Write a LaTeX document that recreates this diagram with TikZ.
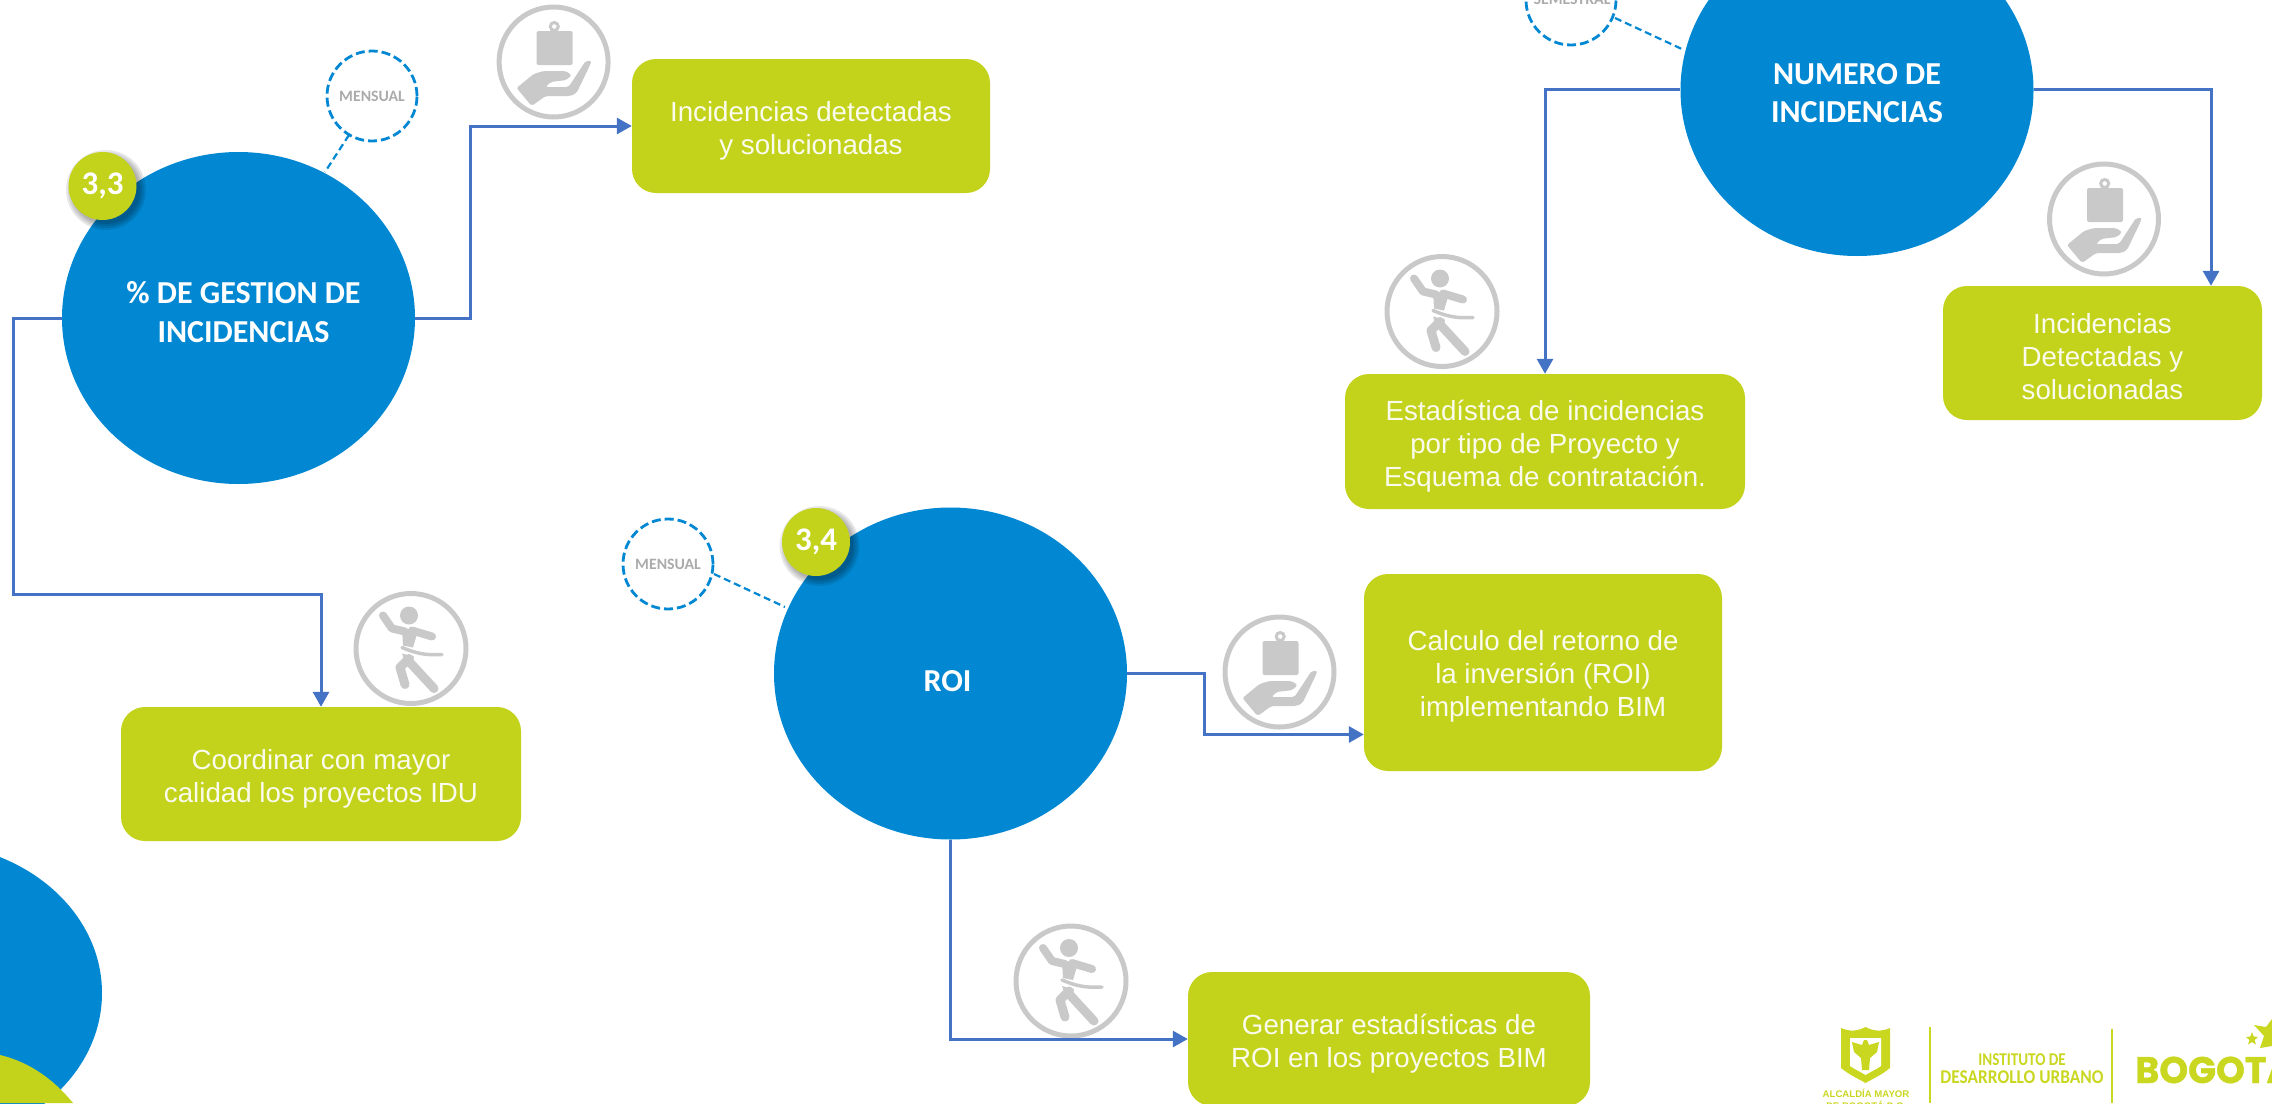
\documentclass[tikz,border=0pt]{standalone}
\usepackage{fontspec}
\setmainfont{Liberation Sans}
\newfontfamily\calfont{Carlito}
\newfontfamily\bogfont{Poppins}[BoldFeatures={FakeBold=1.2}]
\usetikzlibrary{shapes.geometric,arrows.meta,calc}
\definecolor{kblue}{HTML}{0288D3}
\definecolor{kgreen}{HTML}{C3D21A}
\definecolor{kline}{HTML}{4472C4}
\definecolor{kgray}{HTML}{C9C9C9}
\definecolor{ktext}{HTML}{ABABAB}
\definecolor{klogo}{HTML}{C9D721}
\tikzset{
  bigcirc/.style={ellipse,fill=kblue,draw=none,inner sep=0pt,minimum width=353pt,minimum height=332pt},
  bigtext/.style={inner sep=0pt,text=white,align=center,font=\calfont\bfseries\fontsize{32}{38.5}\selectfont},
  badge/.style={circle,fill=kgreen,draw=none,inner sep=0pt,minimum size=68pt,text=white,font=\calfont\bfseries\fontsize{33}{36}\selectfont},
  softshadow/.style={fill=black,opacity=.09},
  freq/.style={circle,draw=kblue,line width=2.8pt,dash pattern=on 9pt off 4pt,fill=white,inner sep=0pt,minimum size=90pt,text=ktext,font=\calfont\bfseries\fontsize{15.8}{18}\selectfont},
  freqlink/.style={draw=kblue,line width=2.2pt,dash pattern=on 7pt off 4pt},
  actbox/.style={rounded corners=24pt,fill=kgreen,draw=none,inner sep=0pt},
  acttext/.style={inner sep=0pt,text=white!92!kgreen,align=center,font=\fontsize{27.7}{33}\selectfont},
  conn/.style={draw=kline,line width=3pt,-{Triangle[length=15pt,width=16pt]}},
  handicon/.pic={
    \draw[kgray,line width=5pt] (0,0) ellipse[x radius=54.5pt,y radius=55pt];
    \fill[kgray,rounded corners=2pt] (-17,-31) rectangle (19,3);
    \draw[kgray,line width=3pt] (0.7,-35.5) circle[radius=4pt];
    \fill[kgray,rounded corners=2pt] (-37,26) -- (-20,12) -- (-10,9) -- (12,9) -- (18,13) -- (13,18) -- (-3,20) -- (-8,25) -- (15,25) -- (32,-1) -- (38,-1) -- (35,6) -- (23,31) -- (17,34) -- (-8,34) -- (-22,44) -- cycle;
  },
  runicon/.pic={
    \draw[kgray,line width=5pt] (0,0) ellipse[x radius=55pt,y radius=55pt];
    \fill[kgray] (-2,-33) circle[radius=9pt];
    \draw[kgray,line width=8pt,line cap=round,line join=round] (-28,-33) -- (-19,-20) -- (-6,-17);
    \draw[kgray,line width=8pt,line cap=round] (1,-18) -- (21,-12);
    \fill[kgray] (-9,-20) -- (7,-18) -- (2,-1) -- (-8,-3) -- cycle;
    \draw[kgray,line width=3.5pt,line cap=round] (-9,-1) .. controls (5,5) and (15,7) .. (31,6);
    \fill[kgray] (-9,5) -- (3,8) -- (2,14) -- (-6,14) -- cycle;
    \draw[kgray,line width=9pt,line cap=round,line join=round] (-2,10) -- (-11,19) -- (-6,36);
    \draw[kgray,line width=9pt,line cap=round] (-1,14) -- (23,40);
  }
}
\begin{document}
\begin{tikzpicture}[x=1pt,y=-1pt]
\useasboundingbox (0,0) rectangle (2272,1103);
\clip (0,0) rectangle (2272,1103);

% lower-left fragments
\fill[kblue] (-75,993) ellipse[x radius=177pt,y radius=150pt];
\fill[kgreen] (0,1055) .. controls (25,1061) and (50,1075) .. (73,1103) -- (0,1103) -- cycle;

% frequency circles and links
\node[freq] (fa) at (372,96) {MENSUAL};
\node[freq] (fb) at (668,564) {MENSUAL};
\node[freq] (fc) at (1571,0) {};
\node[text=ktext,inner sep=0pt,font=\calfont\bfseries\fontsize{15.8}{18}\selectfont] (fct) at (1572,-1) {SEMESTRAL};

% circles
\node[bigcirc] (pct) at (238.5,318) {};
\node[bigcirc] (nu) at (1857,90) {};
\node[bigcirc] (roi) at (950.5,673.5) {};
\coordinate (fatop) at (325,172);
\coordinate (fbend) at (785,607);
\coordinate (fcend) at (1684,50);
\draw[freqlink] (fa) ++(-23,39) -- (fatop);
\draw[freqlink] (fb) ++(46,10) -- (fbend);
\draw[freqlink] (fc) ++(44,18) -- (fcend);
\node[bigtext] (pctt) at ([xshift=5pt,yshift=6pt]pct.center) {\% DE GESTION DE\\INCIDENCIAS};
\node[bigtext] (nut) at ([yshift=-3pt]nu.center) {NUMERO DE\\INCIDENCIAS};
\node[bigtext] (roit) at ([xshift=-3pt,yshift=-8pt]roi.center) {ROI};

% boxes
\node[actbox,minimum width=358pt,minimum height=134pt] (boxa) at (811,126) {};
\node[actbox,minimum width=400pt,minimum height=134pt] (boxb) at (321,774) {};
\node[actbox,minimum width=400pt,minimum height=135pt] (boxd) at (1545,441.5) {};
\node[actbox,minimum width=319pt,minimum height=134pt] (boxe) at (2102.5,353) {};
\node[actbox,minimum width=358pt,minimum height=197pt] (boxc) at (1543,672.5) {};
\node[actbox,minimum width=402pt,minimum height=134pt] (boxg) at (1389,1039) {};
\node[acttext] (ta) at ([yshift=-5pt]boxa.center) {Incidencias detectadas\\y solucionadas};
\node[acttext] (tb) at ([yshift=-5pt]boxb.center) {Coordinar con mayor\\calidad los proyectos IDU};
\node[acttext] (td) at ([yshift=-5pt]boxd.center) {Estadística de incidencias\\por tipo de Proyecto y\\Esquema de contratación.};
\node[acttext] (te) at ([yshift=-4pt]boxe.center) {Incidencias\\Detectadas y\\solucionadas};
\node[acttext] (tc) at ([yshift=-4pt]boxc.center) {Calculo del retorno de\\la inversión (ROI)\\implementando BIM};
\node[acttext] (tg) at ([yshift=-5pt]boxg.center) {Generar estadísticas de\\ROI en los proyectos BIM};

% badges with soft shadow
\coordinate (sa) at (106,190);
\coordinate (sb) at (819.5,546);
\foreach \r in {40,38,36,34}{
  \fill[softshadow] (sa) circle[radius=\r pt];
  \fill[softshadow] (sb) circle[radius=\r pt];
}
\node[badge] (ba) at (102.5,186) {3,3};
\node[badge] (bb) at (816,542) {3,4};

% icons
\pic (ih1) at (553.6,62) {handicon};
\pic (ir1) at (411,648.5) {runicon};
\pic (ih2) at (2104,219) {handicon};
\pic (ir2) at (1442,311.5) {runicon};
\pic (ih3) at (1279.5,672) {handicon};
\pic (ir3) at (1071,981) {runicon};

% connectors
\draw[conn] (pct.east) -- ++(55,0) |- (boxa.west);
\draw[conn] (pct.west) -- ++(-48,0) -- ++(0,276) -| (boxb.north);
\draw[conn] ([yshift=1pt]nu.west) -| (boxd.north);
\draw[conn] ([yshift=1pt]nu.east) -| ([xshift=108.5pt]boxe.north);
\draw[conn] (roi.east) -- ++(77,0) |- ([yshift=-62pt]boxc.west);
\draw[conn] (roi.south) |- (boxg.west);

% logos
\fill[klogo] (1841,1028) .. controls (1850,1032) and (1858,1031) .. (1865.5,1027) .. controls (1873,1031) and (1881,1032) .. (1890,1028) -- (1890,1068) .. controls (1880,1076) and (1872,1079) .. (1865.5,1083) .. controls (1859,1079) and (1851,1076) .. (1841,1068) -- cycle;
\fill[white] (1850,1038) -- (1881,1038) -- (1881,1066) .. controls (1875,1070) and (1870,1072) .. (1865.5,1075) .. controls (1861,1072) and (1856,1070) .. (1850,1066) -- cycle;
\fill[klogo] (1852,1042) -- (1862,1045) -- (1864,1040) -- (1867,1040) -- (1869,1045) -- (1879,1042) -- (1877,1052) -- (1870,1058) -- (1869,1070) -- (1862,1070) -- (1861,1058) -- (1854,1052) -- cycle;
\node[inner sep=0pt,text=klogo,font=\bfseries\fontsize{9.6}{11}\selectfont] (alc) at (1866,1093) {ALCALDÍA MAYOR};
\node[inner sep=0pt,text=klogo,font=\bfseries\fontsize{9.6}{11}\selectfont] (dbo) at (1866,1105) {DE BOGOTÁ D.C.};
\coordinate (s1a) at (1930,1027);
\coordinate (s1b) at (1930,1103);
\coordinate (s2a) at (2112,1029);
\coordinate (s2b) at (2112,1103);
\draw[klogo,line width=2pt] (s1a) -- (s1b);
\draw[klogo,line width=2pt] (s2a) -- (s2b);
\node[inner sep=0pt,text=klogo,font=\calfont\bfseries\fontsize{18}{20}\selectfont] (inst) at (2022,1060) {\scalebox{.84}[1]{INSTITUTO DE}};
\node[inner sep=0pt,text=klogo,font=\calfont\bfseries\fontsize{19.5}{21}\selectfont] (desa) at (2022,1077) {\scalebox{.89}[1]{DESARROLLO URBANO}};
\node[inner sep=0pt,anchor=base west,text=klogo,font=\bogfont\bfseries\fontsize{37}{40}\selectfont] (bog) at (2135,1083) {\scalebox{.99}[1]{BOGOTÁ}};
\fill[klogo] (2252,1032) -- (2253.7,1036.5) -- (2258,1037) -- (2254.6,1040) -- (2256,1044.5) -- (2252,1042) -- (2248,1044.5) -- (2249.4,1040) -- (2246,1037) -- (2250.3,1036.5) -- cycle;
\fill[klogo] (2272,1019) -- (2272,1046) -- (2260,1048) -- (2264,1036) -- (2254,1025) -- (2266,1027) -- cycle;
\end{tikzpicture}
\end{document}
